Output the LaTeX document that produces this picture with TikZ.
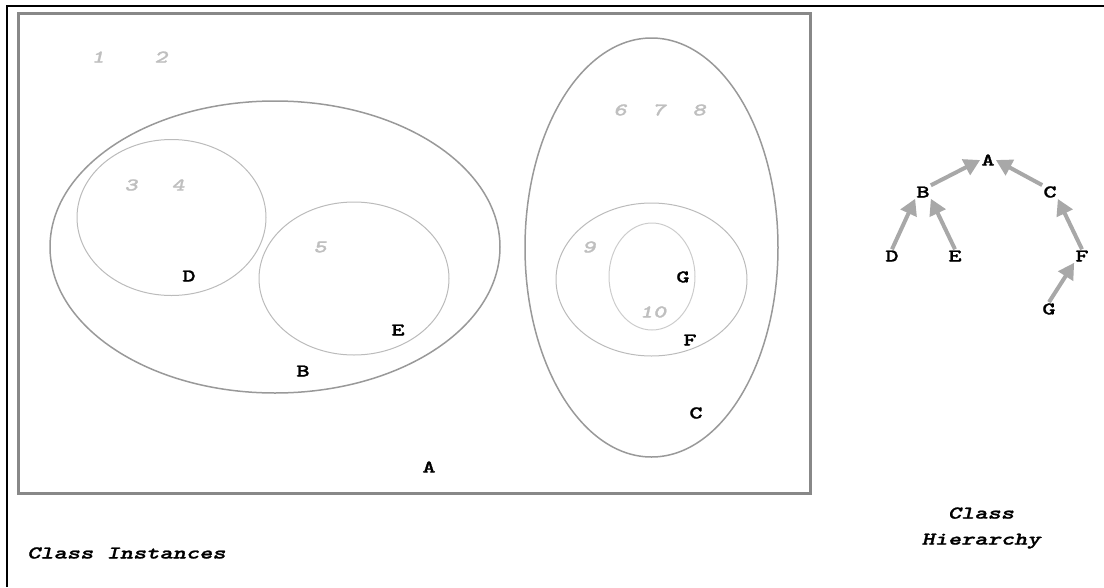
\documentclass[tikz,border=0pt]{standalone}
\usepackage{fontspec}
\newfontfamily\cf[Extension=.otf, UprightFont=lmmonolt10-bold, ItalicFont=lmmonolt10-boldoblique, BoldFont=lmmonolt10-bold, BoldItalicFont=lmmonolt10-boldoblique, FakeStretch=1.4, FakeBold=1.2]{lmmonolt10-bold}
\usetikzlibrary{arrows.meta}
\definecolor{rectgray}{HTML}{888888}
\definecolor{outergray}{HTML}{999999}
\definecolor{innergray}{HTML}{BBBBBB}
\definecolor{gggray}{HTML}{CCCCCC}
\definecolor{numgray}{HTML}{BFBFBF}
\definecolor{arrgray}{HTML}{A8A8A8}
\tikzset{
  lbl/.style={font=\cf\fontsize{18}{20}\selectfont, text=black, inner sep=1pt},
  num/.style={font=\cf\itshape\fontsize{18}{20}\selectfont, text=numgray, inner sep=1pt},
  captxt/.style={font=\cf\itshape\fontsize{18}{20}\selectfont, text=black, inner sep=0pt, align=center},
  outerell/.style={draw=outergray, line width=1.5pt},
  innerell/.style={draw=innergray, line width=1pt},
  gell/.style={draw=gggray, line width=1pt},
  harr/.style={draw=arrgray, line width=4pt, -{Triangle[length=16pt,width=17pt]}}
}
\begin{document}
\begin{tikzpicture}[x=1pt,y=-1pt]
\useasboundingbox (0,0) rectangle (1104,587);
% frame
\draw[black, line width=2.5pt] (7,587) -- (7,6) -- (1104,6);
% class A rectangle
\draw[rectgray, line width=3pt] (18,13) rectangle (810,493);
% ellipses
\draw[outerell] (275,247) ellipse [x radius=225pt, y radius=146pt];
\draw[innerell] (171.5,217.5) ellipse [x radius=94.5pt, y radius=78pt];
\draw[innerell] (354,278.5) ellipse [x radius=95pt, y radius=76.5pt];
\draw[outerell] (651.5,247.5) ellipse [x radius=126.5pt, y radius=209.5pt];
\draw[innerell] (651.5,279.5) ellipse [x radius=95.5pt, y radius=76.5pt];
\draw[gell] (652,276.5) ellipse [x radius=43pt, y radius=53.5pt];
% instance numbers
\node[num] (n1) at (98,57) {1};
\node[num] (n2) at (161,57) {2};
\node[num] (n3) at (131,185) {3};
\node[num] (n4) at (178,185) {4};
\node[num] (n5) at (320,247) {5};
\node[num] (n6) at (620,110) {6};
\node[num] (n7) at (659,110) {7};
\node[num] (n8) at (699,110) {8};
\node[num] (n9) at (589,247) {9};
\node[num] (n10) at (653,312) {10};
% class labels
\node[lbl] (lD) at (189,276) {D};
\node[lbl] (lE) at (398,330) {E};
\node[lbl] (lB) at (303,371) {B};
\node[lbl] (lA) at (429,467) {A};
\node[lbl] (lG) at (683,277) {G};
\node[lbl] (lF) at (690,340) {F};
\node[lbl] (lC) at (696,413) {C};
% hierarchy
\node[lbl] (hA) at (988,160) {A};
\node[lbl] (hB) at (923,192) {B};
\node[lbl] (hC) at (1050,192) {C};
\node[lbl] (hD) at (892,256) {D};
\node[lbl] (hE) at (955,256) {E};
\node[lbl] (hF) at (1082,256) {F};
\node[lbl] (hG) at (1049,309) {G};
\draw[harr] (hB.north east) -- (hA.west);
\draw[harr] (hC.north west) -- (hA.east);
\draw[harr] (hD.north) -- (hB.south west);
\draw[harr] (hE.north) -- (hB.south east);
\draw[harr] (hF.north) -- (hC.south east);
\draw[harr] (hG.north) -- (hF.south west);
% captions
\node[captxt, anchor=west] (capI) at (27,553) {Class Instances};
\node[captxt] (capH) at (981,528) {Class\\[6pt]Hierarchy};
\end{tikzpicture}
\end{document}
